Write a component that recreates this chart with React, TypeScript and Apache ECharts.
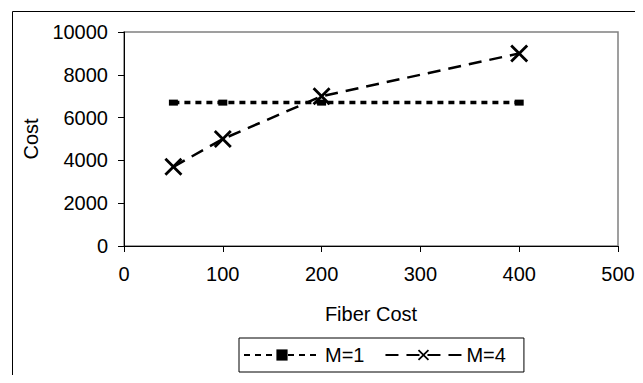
import React, { useEffect, useRef } from "react";
import * as echarts from "echarts";

const fiberCostM1 = [50, 100, 200, 400];
const costM1 = [6700, 6700, 6700, 6700];
const fiberCostM4 = [50, 100, 200, 400];
const costM4 = [3700, 5000, 7000, 9000];
const seriesNames = ["M=1", "M=4"];

const X_PATH =
  "path://M0,1.1L1.1,0L5,3.9L8.9,0L10,1.1L6.1,5L10,8.9L8.9,10L5,6.1L1.1,10L0,8.9L3.9,5Z";

export default function App() {
  const ref = useRef<HTMLDivElement>(null);
  useEffect(() => {
    if (!ref.current) return;
    const chart = echarts.init(ref.current, undefined, { renderer: "svg" });
    const font = "Arial, 'Liberation Sans', sans-serif";
    chart.setOption({
      animation: false,
      backgroundColor: "#fff",
      textStyle: { fontFamily: font, color: "#000" },
      graphic: [
        {
          type: "rect",
          shape: { x: 12.5, y: 11.5, width: 630, height: 420 },
          style: { fill: "none", stroke: "#000", lineWidth: 1 },
          silent: true,
          z: -10,
        },
      ],
      grid: {
        left: 124,
        top: 32,
        right: 25,
        bottom: 137,
        show: true,
        borderColor: "#808080",
        borderWidth: 1.5,
        backgroundColor: "transparent",
      },
      legend: {
        left: 239,
        top: 338,
        orient: "horizontal",
        padding: [7, 18, 7, 4],
        itemGap: 20,
        itemWidth: 76,
        itemHeight: 14,
        borderColor: "#000",
        borderWidth: 1,
        backgroundColor: "#fff",
        textStyle: { fontSize: 20, color: "#000", fontFamily: font },
        data: seriesNames,
      },
      xAxis: {
        type: "value",
        min: 0,
        max: 500,
        interval: 100,
        name: "Fiber Cost",
        nameLocation: "middle",
        nameGap: 58,
        nameTextStyle: { fontSize: 20, color: "#000", fontFamily: font },
        axisLine: { show: true, onZero: false, lineStyle: { color: "#000", width: 1 } },
        axisTick: { show: true, length: 6, lineStyle: { color: "#000" } },
        axisLabel: { fontSize: 20, color: "#000", margin: 18, fontFamily: font, formatter: (v: number) => String(v) },
        splitLine: { show: false },
      },
      yAxis: {
        type: "value",
        min: 0,
        max: 10000,
        interval: 2000,
        name: "Cost",
        nameLocation: "middle",
        nameGap: 77,
        nameTextStyle: { fontSize: 20, color: "#000", fontFamily: font },
        axisLine: { show: true, onZero: false, lineStyle: { color: "#000", width: 1 } },
        axisTick: { show: true, length: 6, lineStyle: { color: "#000" } },
        axisLabel: { fontSize: 20, color: "#000", margin: 16, fontFamily: font, formatter: (v: number) => String(v) },
        splitLine: { show: false },
      },
      series: [
        {
          name: seriesNames[0],
          type: "line",
          data: fiberCostM1.map((x, i) => [x, costM1[i]]),
          symbol: "rect",
          symbolSize: [9, 6],
          itemStyle: { color: "#000" },
          lineStyle: { color: "#000", width: 3.5, type: [6, 5] },
          z: 2,
        },
        {
          name: seriesNames[1],
          type: "line",
          data: fiberCostM4.map((x, i) => [x, costM4[i]]),
          symbol: X_PATH,
          symbolSize: 18,
          itemStyle: { color: "#000" },
          lineStyle: { color: "#000", width: 2.5, type: [13, 8] },
          z: 3,
        },
      ],
    });
    return () => chart.dispose();
  }, []);
  return <div ref={ref} style={{ width: 643, height: 383, margin: -8 }} />;
}
